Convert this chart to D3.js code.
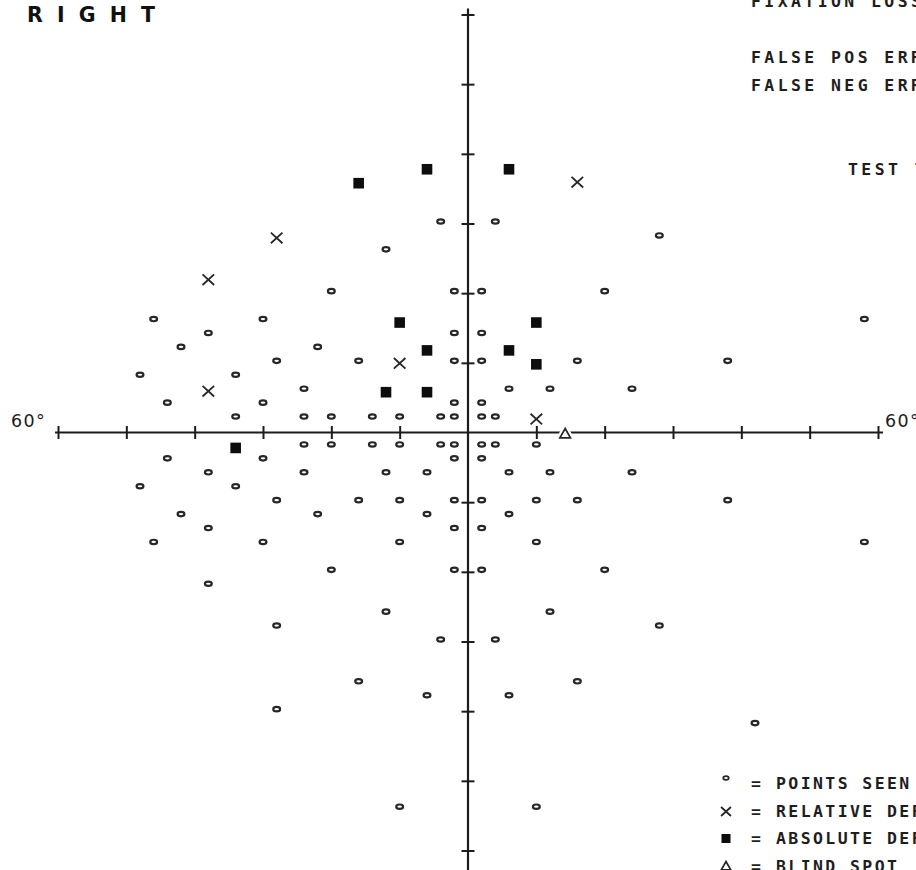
<!DOCTYPE html>
<html>
<head>
<meta charset="utf-8">
<script src="https://cdn.jsdelivr.net/npm/d3@7/dist/d3.min.js"></script>
<style>
  html, body { margin: 0; padding: 0; background: #fff; }
  svg { display: block; overflow: hidden; }
  .mono { font-family: "DejaVu Sans Mono", "Liberation Mono", monospace; fill: #1e1e1e; font-weight: bold; }
</style>
</head>
<body>
<svg id="chart" width="916" height="870"></svg>
<script>
// Visual field plot, right eye. Coordinates are in degrees from fixation.
const tickDeg = d3.range(-60, 61, 10);
const axisLabels = ["60°", "60°"];
const eyeLabel = "RIGHT";

// points seen (x°, y°)
const seen = [
  [-4, 30], [4, 30],
  [28, 28],
  [-12, 26],
  [-20, 20], [-2, 20], [2, 20], [20, 20],
  [-46, 16], [-30, 16], [58, 16],
  [-38, 14], [-2, 14], [2, 14],
  [-42, 12], [-22, 12],
  [-28, 10], [-16, 10], [-2, 10], [2, 10], [16, 10], [38, 10],
  [-48, 8], [-34, 8],
  [-24, 6], [6, 6], [12, 6], [24, 6],
  [-44, 4], [-30, 4], [-2, 4], [2, 4],
  [-34, 2], [-24, 2], [-20, 2], [-14, 2], [-10, 2], [-4, 2], [-2, 2], [2, 2], [4, 2],
  [-24, -2], [-20, -2], [-14, -2], [-10, -2], [-4, -2], [-2, -2], [2, -2], [4, -2], [10, -2],
  [-44, -4], [-30, -4], [-2, -4], [2, -4],
  [-38, -6], [-24, -6], [-12, -6], [-6, -6], [6, -6], [12, -6], [24, -6],
  [-48, -8], [-34, -8],
  [-28, -10], [-16, -10], [-10, -10], [-2, -10], [2, -10], [10, -10], [16, -10], [38, -10],
  [-42, -12], [-22, -12], [-6, -12], [6, -12],
  [-38, -14], [-2, -14], [2, -14],
  [-46, -16], [-30, -16], [-10, -16], [10, -16], [58, -16],
  [-20, -20], [-2, -20], [2, -20], [20, -20],
  [-38, -22],
  [-12, -26], [12, -26],
  [-28, -28], [28, -28],
  [-4, -30], [4, -30],
  [-16, -36], [16, -36],
  [-6, -38], [6, -38],
  [-28, -40],
  [42, -42],
  [-10, -54], [10, -54]
];

// relative defects
const relative = [
  [16, 36], [-28, 28], [-38, 22], [-10, 10], [-38, 6], [10, 2]
];

// absolute defects
const absolute = [
  [-16, 36], [-6, 38], [6, 38],
  [-10, 16], [10, 16],
  [-6, 12], [6, 12],
  [10, 10],
  [-12, 6], [-6, 6],
  [-34, -2]
];

// blind spot
const blindSpot = [[14, 0]];

const headerLines = [
  { text: "FIXATION LOSSES", x: 751, y: 7 },
  { text: "FALSE POS ERRORS", x: 751, y: 63 },
  { text: "FALSE NEG ERRORS", x: 751, y: 91 },
  { text: "TEST TIME", x: 848, y: 175 }
];

const legendItems = [
  { key: "seen", text: "POINTS SEEN" },
  { key: "relative", text: "RELATIVE DEFECT" },
  { key: "absolute", text: "ABSOLUTE DEFECT" },
  { key: "blind", text: "BLIND SPOT" }
];

const svg = d3.select("#chart");
const W = 916, H = 870;

const x = d3.scaleLinear().domain([-60, 60]).range([58, 878]);
const y = d3.scaleLinear().domain([-60, 60]).range([850.5, 14.5]);

const ink = "#1c1c1c";

// ---- axes ----
const xAxis = d3.axisBottom(x)
  .tickValues(tickDeg.filter(d => d !== 0))
  .tickSize(6)
  .tickSizeOuter(0)
  .tickFormat("");
const gx = svg.append("g").attr("transform", `translate(0,${y(0)})`).call(xAxis);
gx.select(".domain").remove();
gx.selectAll(".tick line").attr("y1", -6.5).attr("y2", 6.5)
  .attr("stroke", ink).attr("stroke-width", 2);
gx.insert("line", ":first-child")
  .attr("x1", x(-60) - 3).attr("x2", x(60) + 5)
  .attr("y1", 0).attr("y2", 0)
  .attr("stroke", ink).attr("stroke-width", 2.2);

const yAxis = d3.axisLeft(y)
  .tickValues(tickDeg.filter(d => d !== 0))
  .tickSize(6)
  .tickSizeOuter(0)
  .tickFormat("");
const gy = svg.append("g").attr("transform", `translate(${x(0)},0)`).call(yAxis);
gy.select(".domain").remove();
gy.selectAll(".tick line").attr("x1", -6.5).attr("x2", 6.5)
  .attr("stroke", ink).attr("stroke-width", 2);
gy.insert("line", ":first-child")
  .attr("x1", 0).attr("x2", 0)
  .attr("y1", y(60) - 6).attr("y2", H)
  .attr("stroke", ink).attr("stroke-width", 2.2);

// ---- axis labels ----
svg.append("text")
  .attr("x", 11).attr("y", 427)
  .attr("font-family", "DejaVu Sans, sans-serif")
  .attr("font-size", 17.5).attr("letter-spacing", 1.4)
  .attr("fill", ink)
  .text(axisLabels[0]);
svg.append("text")
  .attr("x", 885).attr("y", 427)
  .attr("font-family", "DejaVu Sans, sans-serif")
  .attr("font-size", 17.5).attr("letter-spacing", 1.4)
  .attr("fill", ink)
  .text(axisLabels[1]);

svg.append("text")
  .attr("x", 27).attr("y", 22)
  .attr("font-family", "DejaVu Sans, sans-serif")
  .attr("font-weight", "bold")
  .attr("font-size", 20.5)
  .attr("textLength", 128).attr("lengthAdjust", "spacing")
  .attr("fill", "#111")
  .text(eyeLabel);

// ---- marker glyphs (printer glyphs sit slightly off their nominal point) ----
function drawSeen(g, cx, cy, s = 1) {
  g.append("ellipse")
    .attr("cx", cx).attr("cy", cy)
    .attr("rx", 3.4 * s).attr("ry", 2.2 * s)
    .attr("fill", "#fff").attr("stroke", "#262626").attr("stroke-width", 2.2 * s);
}
function drawRelative(g, cx, cy, s = 1) {
  g.append("path")
    .attr("d", `M${cx - 5.8 * s},${cy - 5.3 * s}L${cx + 5.8 * s},${cy + 5.3 * s}M${cx - 5.8 * s},${cy + 5.3 * s}L${cx + 5.8 * s},${cy - 5.3 * s}`)
    .attr("fill", "none").attr("stroke", "#262626").attr("stroke-width", 1.8);
}
function drawAbsolute(g, cx, cy, s = 1) {
  const h = 5.3 * s;
  g.append("rect")
    .attr("x", cx - h).attr("y", cy - h)
    .attr("width", 2 * h).attr("height", 2 * h)
    .attr("fill", "#0d0d0d");
}
function drawBlind(g, cx, cy, s = 1, knockout = false) {
  const d = `M${cx},${cy - 5 * s}L${cx + 5.3 * s},${cy + 4.3 * s}H${cx - 5.3 * s}Z`;
  if (knockout) {
    g.append("path").attr("d", d).attr("fill", "#fff").attr("stroke", "#fff").attr("stroke-width", 6);
  }
  g.append("path").attr("d", d)
    .attr("fill", "#fff").attr("stroke", "#262626").attr("stroke-width", 1.7)
    .attr("stroke-linejoin", "miter");
}

const marks = svg.append("g");
seen.forEach(([a, b]) => drawSeen(marks, x(a), y(b) - 2));
relative.forEach(([a, b]) => drawRelative(marks, x(a), y(b) + 0.5));
absolute.forEach(([a, b]) => drawAbsolute(marks, x(a), y(b) + 1.5));
blindSpot.forEach(([a, b]) => drawBlind(marks, x(a) + 1.5, y(b) + 1, 1, true));

// ---- header text ----
svg.append("g").selectAll("text")
  .data(headerLines)
  .join("text")
  .attr("class", "mono")
  .attr("x", d => d.x).attr("y", d => d.y)
  .attr("font-size", 16.5)
  .attr("letter-spacing", 3.4)
  .text(d => d.text);

// ---- legend ----
const legendRows = [789, 816.5, 844, 871.5];
const legendMarkY = [778, 811.5, 838.5, 866];
const lg = svg.append("g");
legendItems.forEach((item, i) => {
  const mx = 726, my = legendMarkY[i];
  if (item.key === "seen") drawSeen(lg, mx, my, 0.8);
  if (item.key === "relative") drawRelative(lg, mx, my, 0.85);
  if (item.key === "absolute") drawAbsolute(lg, mx, my, 0.85);
  if (item.key === "blind") drawBlind(lg, mx, my, 0.9);
  lg.append("text").attr("class", "mono")
    .attr("x", 751).attr("y", legendRows[i])
    .attr("font-size", 16.5).attr("letter-spacing", 2.4)
    .text("=");
  lg.append("text").attr("class", "mono")
    .attr("x", 776).attr("y", legendRows[i])
    .attr("font-size", 16.5).attr("letter-spacing", 2.4)
    .text(item.text);
});
</script>
</body>
</html>
